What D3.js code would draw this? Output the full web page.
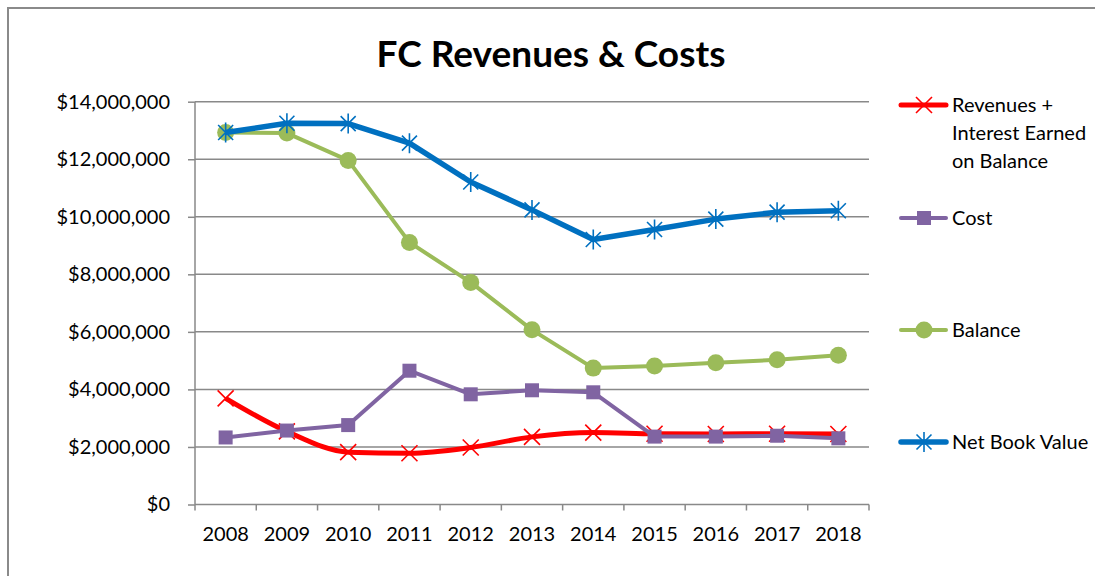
<!DOCTYPE html>
<html>
<head>
<meta charset="utf-8">
<script src="https://cdn.jsdelivr.net/npm/d3@7"></script>
<style>
  body { margin: 0; background: #fff; }
  svg text { font-family: Lato, "Open Sans", sans-serif; fill: #000; }
</style>
</head>
<body>
<div id="chart"></div>
<script>
// data
const years = ["2008", "2009", "2010", "2011", "2012", "2013", "2014", "2015", "2016", "2017", "2018"];
const revenues = [3690000, 2540000, 1820000, 1780000, 1980000, 2350000, 2500000, 2460000, 2450000, 2460000, 2450000];
const cost = [2330000, 2570000, 2760000, 4650000, 3830000, 3970000, 3900000, 2360000, 2360000, 2390000, 2300000];
const balance = [12930000, 12910000, 11960000, 9110000, 7720000, 6070000, 4740000, 4810000, 4930000, 5030000, 5190000];
const netBook = [12930000, 13250000, 13240000, 12560000, 11210000, 10240000, 9210000, 9560000, 9920000, 10160000, 10210000];
const yTicks = [0, 2000000, 4000000, 6000000, 8000000, 10000000, 12000000, 14000000];

const series = [
    { name: ["Revenues +", "Interest Earned", "on Balance"], values: revenues, color: "#FF0000", marker: "x", width: 5, smooth: true, ly: 105 },
    { name: ["Cost"], values: cost, color: "#8064A2", marker: "square", width: 4, ly: 218 },
    { name: ["Balance"], values: balance, color: "#9BBB59", marker: "circle", width: 4, ly: 330 },
    { name: ["Net Book Value"], values: netBook, color: "#0070C0", marker: "star", width: 5.5, ly: 442 }
];

const W = 1095, H = 576;
const plotL = 195, plotR = 869, plotT = 101.7, plotB = 504.5;
const gridColor = "#898989";

const svg = d3.select("#chart").append("svg")
    .attr("width", W)
    .attr("height", H);

// outer frame
svg.append("path")
    .attr("d", `M8,${H} L8,8 L${W},8`)
    .attr("fill", "none")
    .attr("stroke", "#8a8a8a")
    .attr("stroke-width", 2);

svg.append("text")
    .attr("x", 551)
    .attr("y", 67)
    .attr("text-anchor", "middle")
    .style("font-size", "37px")
    .style("font-weight", "bold")
    .text("FC Revenues & Costs");

const x = d3.scaleBand().domain(years).range([plotL, plotR]);
const y = d3.scaleLinear().domain([0, 14000000]).range([plotB, plotT]);
const cx = d => x(d) + x.bandwidth() / 2;

// gridlines
svg.append("g").selectAll("line")
    .data(yTicks.filter(t => t > 0))
    .enter().append("line")
    .attr("x1", plotL).attr("x2", plotR)
    .attr("y1", d => y(d)).attr("y2", d => y(d))
    .attr("stroke", gridColor)
    .attr("stroke-width", 1.5);

// y axis
const yAxis = svg.append("g")
    .attr("transform", `translate(${plotL},0)`)
    .call(d3.axisLeft(y).tickValues(yTicks).tickSize(7).tickPadding(18)
        .tickFormat(d => "$" + d3.format(",")(d)));
yAxis.selectAll("line, path").attr("stroke", gridColor).attr("stroke-width", 1.5);
yAxis.select(".domain").attr("d", `M0,${plotT}V${plotB}`);
yAxis.selectAll("text").style("font-size", "20px").style("font-family", "Lato, sans-serif");

// x axis
const xAxis = svg.append("g")
    .attr("transform", `translate(0,${plotB})`)
    .call(d3.axisBottom(x).tickSize(0).tickPadding(22));
xAxis.select(".domain").attr("d", `M${plotL},0H${plotR}`)
    .attr("stroke", gridColor).attr("stroke-width", 1.5);
xAxis.selectAll("text").style("font-size", "20px").style("font-family", "Lato, sans-serif");
xAxis.selectAll(".bound")
    .data(years.map(d => x(d)).concat([plotR]))
    .enter().append("line")
    .attr("class", "bound")
    .attr("x1", d => d).attr("x2", d => d)
    .attr("y1", 0).attr("y2", 6)
    .attr("stroke", gridColor)
    .attr("stroke-width", 1.5);

function drawMarker(g, type, color) {
    if (type === "x") {
        g.append("path").attr("d", "M-8,-8L8,8M-8,8L8,-8")
            .attr("stroke", color).attr("stroke-width", 1.6).attr("fill", "none");
    } else if (type === "square") {
        g.append("rect").attr("x", -7).attr("y", -7).attr("width", 14).attr("height", 14)
            .attr("fill", color);
    } else if (type === "circle") {
        g.append("circle").attr("r", 8.5).attr("fill", color);
    } else if (type === "star") {
        g.append("path").attr("d", "M-7.5,-7.5L7.5,7.5M-7.5,7.5L7.5,-7.5M0,-10L0,10")
            .attr("stroke", color).attr("stroke-width", 1.6).attr("fill", "none");
    }
}

series.forEach(s => {
    const line = d3.line()
        .x((d, i) => cx(years[i]))
        .y(d => y(d))
        .curve(s.smooth ? d3.curveMonotoneX : d3.curveLinear);

    svg.append("path")
        .datum(s.values)
        .attr("d", line)
        .attr("fill", "none")
        .attr("stroke", s.color)
        .attr("stroke-width", s.width)
        .attr("stroke-linejoin", "round");

    svg.append("g").selectAll("g")
        .data(s.values)
        .enter().append("g")
        .attr("transform", (d, i) => `translate(${cx(years[i])},${y(d)})`)
        .each(function() { drawMarker(d3.select(this), s.marker, s.color); });
});

// legend
const legend = svg.append("g");
series.forEach(s => {
    const g = legend.append("g").attr("transform", `translate(0,${s.ly})`);
    g.append("line")
        .attr("x1", 901).attr("x2", 946)
        .attr("stroke", s.color)
        .attr("stroke-width", s.width)
        .attr("stroke-linecap", "round");
    const m = g.append("g").attr("transform", "translate(924,0)");
    drawMarker(m, s.marker, s.color);
    s.name.forEach((t, i) => {
        g.append("text")
            .attr("x", 952)
            .attr("y", i * 28 + 7)
            .style("font-size", "20px")
            .text(t);
    });
});
</script>
</body>
</html>
